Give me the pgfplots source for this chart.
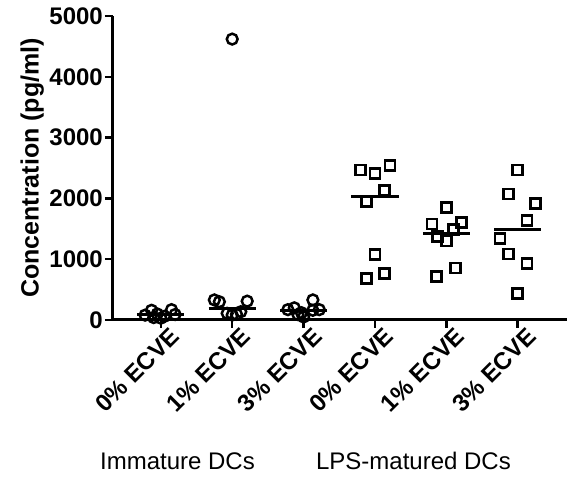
\documentclass[border=0pt]{standalone}
\usepackage{pgfplots}
\pgfplotsset{compat=1.18}
\usepackage{fontspec}
\setmainfont{Liberation Sans}
\begin{document}
\begin{tikzpicture}[x=1pt,y=1pt]
\useasboundingbox (0,0) rectangle (571,478);
\begin{axis}[
  at={(113pt,158pt)}, anchor=south west,
  scale only axis, width=454pt, height=304pt,
  xmin=-0.67, xmax=5.69, ymin=0, ymax=5000,
  enlargelimits=false, clip=false,
  axis x line=bottom, axis y line=left,
  axis line style={-, line width=3pt},
  tick align=outside, major tick length=8pt,
  tick style={line width=2.5pt, black},
  xtick={0,1,2,3,4,5},
  xticklabels={0\% ECVE,1\% ECVE,3\% ECVE,0\% ECVE,1\% ECVE,3\% ECVE},
  xticklabel style={rotate=45, anchor=east, font=\bfseries\fontsize{24}{24}\selectfont, inner sep=1pt, xshift=8pt, yshift=-13pt},
  ytick={0,1000,2000,3000,4000,5000},
  yticklabel style={font=\bfseries\fontsize{24}{24}\selectfont, inner sep=2pt},
  /pgf/number format/assume math mode=true,
  /pgf/number format/1000 sep={},
  ylabel={Concentration (pg/ml)},
  ylabel style={font=\bfseries\fontsize{25}{25}\selectfont},
]
% Immature DCs (circles)
\addplot[only marks, mark=o, mark size=5.4pt, line width=2.5pt] coordinates {
 (-0.13,160) (0.15,170) (-0.22,80) (-0.05,100) (0.05,60) (0.2,90) (0,30) (-0.1,40)
 (0.75,330) (0.82,300) (1.21,310) (0.93,110) (1.0,82) (1.06,94) (1.12,136) (1.0,4620)
 (2.13,330) (1.78,170) (1.87,200) (2.13,160) (2.22,170) (1.97,120) (2.0,50) (1.92,90)
};
% LPS-matured DCs (squares)
\addplot[only marks, mark=square, mark size=5pt, line width=2.6pt] coordinates {
 (2.8,2467) (3.0,2413) (3.21,2538) (3.13,2127) (2.88,1946) (3.0,1081) (2.88,686) (3.13,768)
 (4.0,1847) (3.8,1579) (4.21,1600) (4.1,1491) (3.88,1371) (4.0,1299) (3.86,712) (4.13,855)
 (5.0,2467) (4.87,2072) (5.25,1919) (5.13,1633) (4.75,1343) (4.87,1086) (5.13,932) (5.0,439)
};
% medians
\addplot[line width=3pt] coordinates {(-0.33,85) (0.33,85)};
\addplot[line width=3pt] coordinates {(0.67,192) (1.33,192)};
\addplot[line width=3pt] coordinates {(1.67,160) (2.33,160)};
\addplot[line width=3pt] coordinates {(2.67,2028) (3.33,2028)};
\addplot[line width=3pt] coordinates {(3.67,1425) (4.33,1425)};
\addplot[line width=3pt] coordinates {(4.67,1491) (5.33,1491)};
\end{axis}
\node[font=\fontsize{24}{24}\selectfont, anchor=base] at (177.5,8) {Immature DCs};
\node[font=\fontsize{24}{24}\selectfont, anchor=base] at (413.5,8) {LPS-matured DCs};
\end{tikzpicture}
\end{document}
